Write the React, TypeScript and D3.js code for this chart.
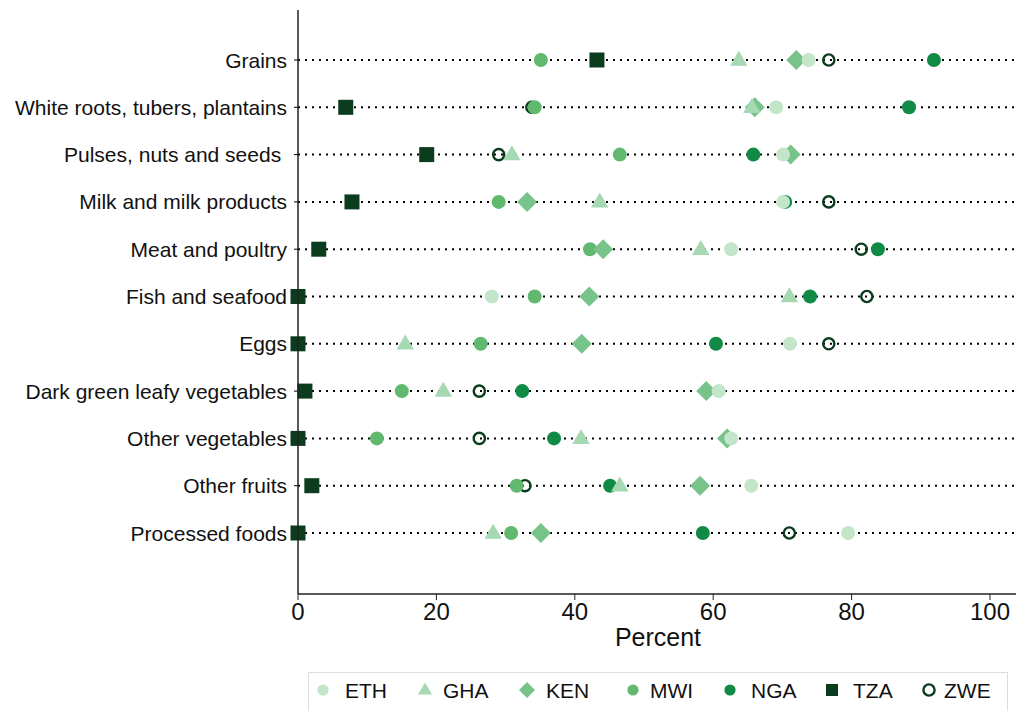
import React from "react";
import * as d3 from "d3";

const categories = [
  "Grains",
  "White roots, tubers, plantains",
  "Pulses, nuts and seeds ",
  "Milk and milk products",
  "Meat and poultry",
  "Fish and seafood",
  "Eggs",
  "Dark green leafy vegetables",
  "Other vegetables",
  "Other fruits",
  "Processed foods",
];

const countries = ["ETH", "GHA", "KEN", "MWI", "NGA", "TZA", "ZWE"];

const ETH = [73.8, 69.1, 70.1, 70.1, 62.6, 28.0, 71.1, 60.8, 62.6, 65.5, 79.5];
const GHA = [63.7, 65.6, 30.9, 43.6, 58.2, 71.0, 15.5, 21.0, 40.9, 46.5, 28.2];
const KEN = [72.0, 66.0, 71.2, 33.1, 44.1, 42.1, 41.0, 59.0, 62.0, 58.1, 35.1];
const MWI = [35.1, 34.2, 46.5, 29.0, 42.2, 34.2, 26.4, 15.0, 11.4, 31.6, 30.8];
const NGA = [91.9, 88.3, 65.8, 70.4, 83.8, 74.0, 60.4, 32.4, 37.0, 45.1, 58.5];
const TZA = [43.2, 6.9, 18.6, 7.8, 3.0, 0.0, 0.0, 1.0, 0.0, 2.0, 0.0];
const ZWE = [76.7, 33.8, 29.0, 76.7, 81.4, 82.2, 76.7, 26.2, 26.2, 32.8, 71.0];

const seriesValues = [ETH, GHA, KEN, MWI, NGA, TZA, ZWE];
const colors = ["#c3e5ca", "#a6d8b2", "#77c38a", "#60b96f", "#118a45", "#0b3c1d", "#0b3c1d"];
const shapes = ["circle", "triangle", "diamond", "circle", "circle", "square", "hollow"];
const xTicks = [0, 20, 40, 60, 80, 100];

const W = 1021;
const H = 711;
const left = 298;
const right = 1016;
const top = 10;
const bottom = 594;

function Marker({ shape, color, x, y, s = 1 }: { shape: string; color: string; x: number; y: number; s?: number }) {
  if (shape === "circle") return <circle cx={x} cy={y} r={7 * s} fill={color} />;
  if (shape === "hollow")
    return <circle cx={x} cy={y} r={5.6 * s} fill="none" stroke={color} strokeWidth={2.4} />;
  if (shape === "square")
    return <rect x={x - 7.5 * s} y={y - 7.5 * s} width={15 * s} height={15 * s} fill={color} />;
  if (shape === "triangle") {
    const h = 15 * s;
    const w = 17.5 * s;
    return (
      <path
        d={`M${x},${y - h * 0.62} L${x + w / 2},${y + h * 0.38} L${x - w / 2},${y + h * 0.38} Z`}
        fill={color}
      />
    );
  }
  const r = 10 * s;
  return <path d={`M${x},${y - r} L${x + r},${y} L${x},${y + r} L${x - r},${y} Z`} fill={color} />;
}

export default function App() {
  const x = d3.scaleLinear().domain([0, 100]).range([left, 990]);
  const y = d3
    .scalePoint<string>()
    .domain(categories)
    .range([60, 533]);

  const font = "'Liberation Sans', Arial, Helvetica, sans-serif";
  const legendMarkerX = [323, 425, 527, 633, 730, 832, 929];
  const legendTextX = [345, 443, 546, 650, 751, 853, 944];
  const drawOrder = [6, 5, 4, 3, 2, 1, 0];

  return (
    <svg width={W} height={H} style={{ position: "absolute", left: 0, top: 0 }} fontFamily={font}>
      <rect width={W} height={H} fill="white" />
      {categories.map((c) => (
        <g key={c}>
          <line
            x1={left}
            x2={right}
            y1={y(c)}
            y2={y(c)}
            stroke="#000"
            strokeWidth={2}
            strokeDasharray="2 5"
          />
          <line x1={left - 4} x2={left} y1={y(c)} y2={y(c)} stroke="#000" strokeWidth={1} />
          <text
            x={287}
            y={y(c)}
            dy="0.36em"
            textAnchor="end"
            fontSize={21}
            fill="#111"
            style={{ whiteSpace: "pre" }}
          >
            {c}
          </text>
        </g>
      ))}
      {drawOrder.map((si) => (
        <g key={countries[si]}>
          {seriesValues[si].map((v, i) => (
            <Marker key={i} shape={shapes[si]} color={colors[si]} x={x(v)} y={y(categories[i])!} />
          ))}
        </g>
      ))}
      <line x1={left} x2={left} y1={top} y2={bottom} stroke="#222" strokeWidth={1.5} />
      <line x1={left} x2={right} y1={bottom} y2={bottom} stroke="#222" strokeWidth={1.5} />
      {xTicks.map((t) => (
        <g key={t}>
          <line x1={x(t)} x2={x(t)} y1={bottom} y2={bottom + 6} stroke="#222" strokeWidth={1} />
          <text x={x(t)} y={620} textAnchor="middle" fontSize={24} fill="#111">
            {t}
          </text>
        </g>
      ))}
      <text x={658} y={646} textAnchor="middle" fontSize={25} fill="#111">
        Percent
      </text>
      <rect x={308.5} y={672.5} width={699} height={50} fill="none" stroke="#ddd" strokeWidth={1} />
      {countries.map((c, i) => (
        <g key={c}>
          <Marker shape={shapes[i]} color={colors[i]} x={legendMarkerX[i]} y={690} s={shapes[i] === "hollow" ? 1 : 0.8} />
          <text x={legendTextX[i]} y={690} dy="0.36em" fontSize={21} fill="#111">
            {c}
          </text>
        </g>
      ))}
    </svg>
  );
}
